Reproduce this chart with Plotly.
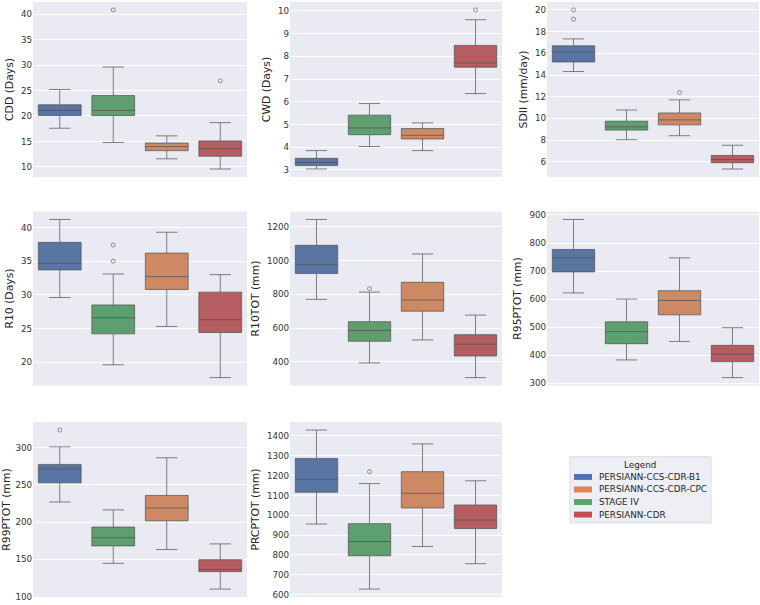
import plotly.graph_objects as go

# ---------------- data ----------------
indices = ["CDD", "CWD", "SDII", "R10", "R10TOT", "R95PTOT", "R99PTOT", "PRCPTOT"]
ylabels = ["CDD (Days)", "CWD (Days)", "SDII (mm/day)", "R10 (Days)",
           "R10TOT (mm)", "R95PTOT (mm)", "R99PTOT (mm)", "PRCPTOT (mm)"]
products = ["PERSIANN-CCS-CDR-B1", "STAGE IV", "PERSIANN-CCS-CDR-CPC", "PERSIANN-CDR"]
legend_order = ["PERSIANN-CCS-CDR-B1", "PERSIANN-CCS-CDR-CPC", "STAGE IV", "PERSIANN-CDR"]

# per index: lists over products (B1, STAGE IV, CPC, CDR)
lower = {
    "CDD": [17.6, 14.8, 11.6, 9.6],
    "CWD": [3.04, 4.03, 3.85, 6.36],
    "SDII": [14.32, 8.03, 8.40, 5.33],
    "R10": [29.6, 19.6, 25.3, 17.7],
    "R10TOT": [770, 394, 530, 307],
    "R95PTOT": [622, 383, 449, 320],
    "R99PTOT": [227, 144.7, 163.3, 110.2],
    "PRCPTOT": [956, 628, 843, 756],
}
q1 = {
    "CDD": [20.1, 20.1, 13.2, 12.1],
    "CWD": [3.19, 4.55, 4.36, 7.52],
    "SDII": [15.20, 8.92, 9.40, 5.91],
    "R10": [33.7, 24.2, 30.8, 24.4],
    "R10TOT": [923, 522, 700, 435],
    "R95PTOT": [697, 441, 544, 377],
    "R99PTOT": [252.7, 168.1, 201.8, 133.6],
    "PRCPTOT": [1116, 796, 1037, 933],
}
median = {
    "CDD": [21.1, 21.1, 14.0, 13.6],
    "CWD": [3.33, 4.85, 4.52, 7.71],
    "SDII": [16.11, 9.22, 9.86, 6.21],
    "R10": [34.7, 26.6, 32.7, 26.3],
    "R10TOT": [977, 586, 766, 505],
    "R95PTOT": [747, 484, 595, 404],
    "R99PTOT": [271.2, 179.2, 219.0, 136.7],
    "PRCPTOT": [1182, 868, 1111, 976],
}
q3 = {
    "CDD": [22.2, 24.0, 14.7, 15.1],
    "CWD": [3.51, 5.41, 4.82, 8.48],
    "SDII": [16.69, 9.74, 10.50, 6.58],
    "R10": [37.8, 28.5, 36.2, 30.4],
    "R10TOT": [1090, 638, 871, 561],
    "R95PTOT": [777, 519, 630, 435],
    "R99PTOT": [277.4, 193.4, 235.8, 149.6],
    "PRCPTOT": [1287, 958, 1220, 1052],
}
upper = {
    "CDD": [25.2, 29.6, 16.1, 18.7],
    "CWD": [3.85, 5.92, 5.07, 9.61],
    "SDII": [17.33, 10.77, 11.71, 7.52],
    "R10": [41.2, 33.1, 39.3, 33.0],
    "R10TOT": [1243, 813, 1039, 677],
    "R95PTOT": [884, 600, 747, 498],
    "R99PTOT": [300.9, 216.4, 286.3, 170.8],
    "PRCPTOT": [1430, 1160, 1360, 1174],
}
# outliers: (product position, value)
outliers = {
    "CDD": [(1, 40.8), (3, 26.9)],
    "CWD": [(3, 10.04)],
    "SDII": [(0, 20.0), (0, 19.15), (2, 12.38)],
    "R10": [(1, 37.4), (1, 35.0)],
    "R10TOT": [(1, 834)],
    "R95PTOT": [],
    "R99PTOT": [(0, 323.5)],
    "PRCPTOT": [(1, 1220)],
}
dticks = {"CDD": 5, "CWD": 1, "SDII": 2, "R10": 5, "R10TOT": 200,
          "R95PTOT": 100, "R99PTOT": 50, "PRCPTOT": 100}
legend_title = "Legend"

# ---------------- style ----------------
fill_colors = {
    "PERSIANN-CCS-CDR-B1": "#5975A4",
    "PERSIANN-CCS-CDR-CPC": "#CC8963",
    "STAGE IV": "#5F9E6E",
    "PERSIANN-CDR": "#B55D60",
}
legend_colors = {
    "PERSIANN-CCS-CDR-B1": "#4C72B0",
    "PERSIANN-CCS-CDR-CPC": "#DD8452",
    "STAGE IV": "#55A868",
    "PERSIANN-CDR": "#C44E52",
}
W, H = 760, 605
col_px = [(33, 247), (290, 502), (547, 759)]
row_px = [(0, 177), (212, 388), (425, 602)]
FONT = "DejaVu Sans"
LINE = "rgba(80,80,80,0.7)"

fig = go.Figure()
layout = {}
for i, key in enumerate(indices):
    r, c = divmod(i, 3)
    n = i + 1
    xa = "x" if n == 1 else f"x{n}"
    ya = "y" if n == 1 else f"y{n}"
    for p, prod in enumerate(products):
        fig.add_trace(go.Box(
            x=[p], q1=[q1[key][p]], median=[median[key][p]], q3=[q3[key][p]],
            lowerfence=[lower[key][p]], upperfence=[upper[key][p]],
            width=0.8, whiskerwidth=0.5, name=prod,
            fillcolor=fill_colors[prod], line=dict(color=LINE, width=1),
            boxpoints=False, showlegend=False, hoverinfo="skip",
            xaxis=xa, yaxis=ya,
        ))
    if outliers[key]:
        fig.add_trace(go.Scatter(
            x=[o[0] for o in outliers[key]], y=[o[1] for o in outliers[key]],
            mode="markers",
            marker=dict(symbol="circle-open", size=4, color="rgba(90,90,90,0.8)",
                        line=dict(width=0.8)),
            showlegend=False, hoverinfo="skip", xaxis=xa, yaxis=ya,
        ))
    vals = lower[key] + upper[key] + [o[1] for o in outliers[key]]
    lo, hi = min(vals), max(vals)
    pad = 0.05 * (hi - lo)
    x0, x1 = col_px[c]
    y0, y1 = row_px[r]
    layout["xaxis" if n == 1 else f"xaxis{n}"] = dict(
        domain=[x0 / W, x1 / W], anchor=ya, range=[-0.5, 3.5],
        showticklabels=False, showgrid=False, zeroline=False, ticks="",
    )
    layout["yaxis" if n == 1 else f"yaxis{n}"] = dict(
        domain=[1 - y1 / H, 1 - y0 / H], anchor=xa, range=[lo - pad, hi + pad],
        dtick=dticks[key], showgrid=True, gridcolor="white", gridwidth=1,
        zeroline=False, ticks="", showline=False,
        tickfont=dict(family=FONT, size=8.7, color="#333333"),
        title=dict(text=ylabels[i], font=dict(family=FONT, size=10.8, color="#262626"),
                   standoff=5),
    )

# ---------------- legend (drawn in the empty 9th cell) ----------------
shapes = []
annotations = []
lx0, lx1, ly0, ly1 = 570, 711, 460, 527
shapes.append(dict(type="rect", xref="paper", yref="paper",
                   x0=lx0 / W, x1=lx1 / W, y0=1 - ly1 / H, y1=1 - ly0 / H,
                   fillcolor="rgba(234,234,242,0.8)",
                   line=dict(color="#DCDCE4", width=1), layer="below"))
annotations.append(dict(text=legend_title, xref="paper", yref="paper",
                        x=640 / W, y=1 - 468 / H, xanchor="center", yanchor="middle",
                        showarrow=False, font=dict(family=FONT, size=8.8, color="#262626")))
for k, prod in enumerate(legend_order):
    yc = 480.5 + k * 12.7
    shapes.append(dict(type="rect", xref="paper", yref="paper",
                       x0=574 / W, x1=592 / W, y0=1 - (yc + 3) / H, y1=1 - (yc - 3) / H,
                       fillcolor=legend_colors[prod], line=dict(width=0)))
    annotations.append(dict(text=prod, xref="paper", yref="paper",
                            x=597 / W, y=1 - yc / H, xanchor="left", yanchor="middle",
                            showarrow=False,
                            font=dict(family=FONT, size=8.8, color="#262626")))

fig.update_layout(
    width=W, height=H, margin=dict(l=0, r=0, t=0, b=0),
    paper_bgcolor="white", plot_bgcolor="#EAEAF2",
    boxmode="overlay", font=dict(family=FONT, color="#262626"),
    showlegend=False, shapes=shapes, annotations=annotations,
    **layout,
)

fig.write_html("out.html")
